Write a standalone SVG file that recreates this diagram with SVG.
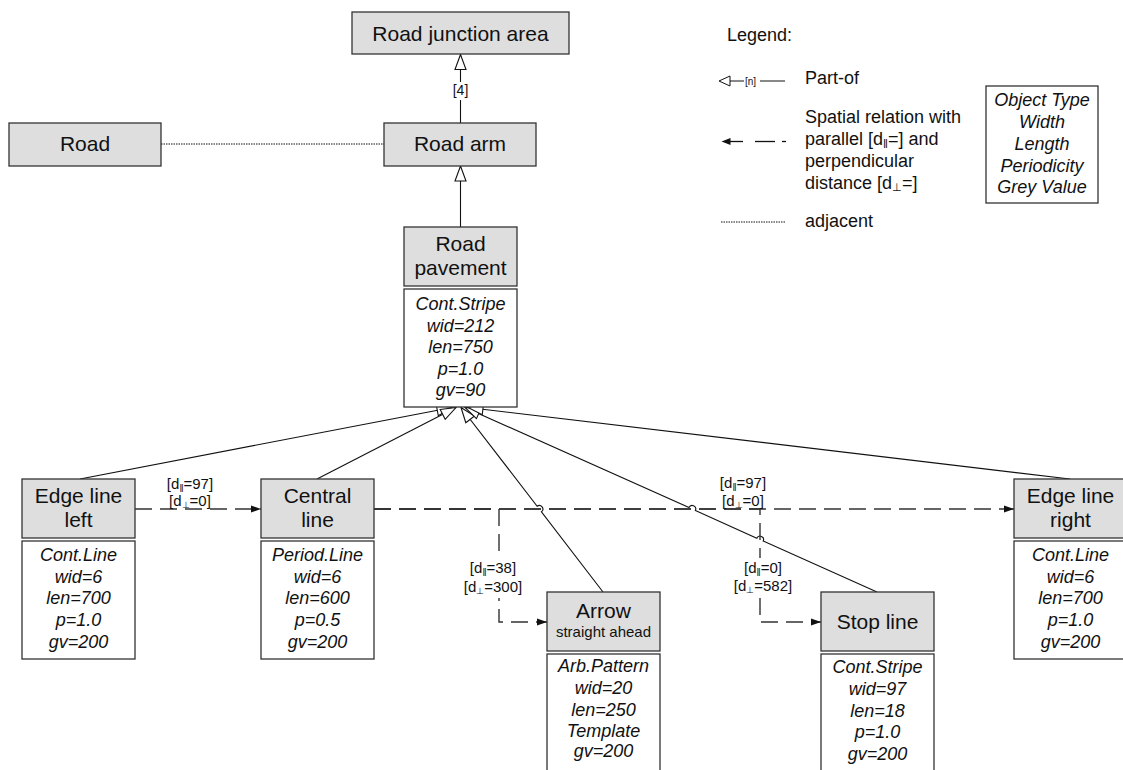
<svg xmlns="http://www.w3.org/2000/svg" width="1123" height="770" viewBox="0 0 1123 770">
<style>
text{font-family:"Liberation Sans",Arial,sans-serif;fill:#111}
.nb{fill:#dedede;stroke:#333;stroke-width:1.3}
.ab{fill:#fff;stroke:#333;stroke-width:1.3}
.nt{font-size:21px;text-anchor:middle}
.at{font-size:18px;font-style:italic;text-anchor:middle}
.lg{font-size:18px}
.lb{font-size:15px;text-anchor:middle}
.po{fill:none;stroke:#111;stroke-width:1.1;marker-end:url(#tri)}
.sp{fill:none;stroke:#333;stroke-width:1.4;stroke-dasharray:17 8;marker-end:url(#arr)}
.adj{fill:none;stroke:#111;stroke-width:1;stroke-dasharray:1.5 1}
</style>
<defs>
<marker id="tri" markerUnits="userSpaceOnUse" viewBox="-1 -7 17 14" markerWidth="17" markerHeight="14" refX="15" refY="0" orient="auto">
<path d="M0,-5.5 L15,0 L0,5.5 Z" fill="#fff" stroke="#111" stroke-width="1.1"/>
</marker>
<marker id="arr" markerUnits="userSpaceOnUse" viewBox="0 -4 10 8" markerWidth="10" markerHeight="8" refX="10" refY="0" orient="auto">
<path d="M0,-3.5 L10,0 L0,3.5 Z" fill="#111"/>
</marker>
</defs>

<g id="connectors">
<line class="adj" x1="161" y1="144" x2="384" y2="144"/>
<path class="po" d="M460.5,123 V54.5"/>
<path class="po" d="M460.5,227 V166"/>
<path class="po" d="M80,479 L452,407.5"/>
<path class="po" d="M317,479 L456,407.5"/>
<path class="po" d="M603,592 L541.43,511.78 A3.5,3.5 0 0 0 537.17,506.22 L461,407.5"/>
<path class="po" d="M877,592 L763.19,541.04 A3.5,3.5 0 0 0 756.81,538.16 L695.39,510.44 A3.5,3.5 0 0 0 689.01,507.56 L465,407.5"/>
<path class="po" d="M1070,479 L468,407.5"/>
<path class="sp" d="M135,509 H261"/>
<path class="sp" d="M374,509 H1014"/>
<path class="sp" d="M374,509 H499 V622 H547"/>
<path class="sp" d="M374,509 H760 V622 H821"/>
<rect x="454" y="82" width="13" height="18" fill="#fff"/>
<text x="460.5" y="95" font-size="14" text-anchor="middle">[4]</text>
<text class="lb" x="190" y="489">[d<tspan font-size="10" dy="3">‖</tspan><tspan dy="-3">=97]</tspan></text>
<text class="lb" x="190" y="506">[d<tspan font-size="9" dy="2">⊥</tspan><tspan dy="-2">=0]</tspan></text>
<text class="lb" x="743" y="488">[d<tspan font-size="10" dy="3">‖</tspan><tspan dy="-3">=97]</tspan></text>
<text class="lb" x="743" y="506">[d<tspan font-size="9" dy="2">⊥</tspan><tspan dy="-2">=0]</tspan></text>
<rect x="467" y="558" width="52" height="40" fill="#fff"/>
<text class="lb" x="493" y="573">[d<tspan font-size="10" dy="3">‖</tspan><tspan dy="-3">=38]</tspan></text>
<text class="lb" x="493" y="592">[d<tspan font-size="9" dy="2">⊥</tspan><tspan dy="-2">=300]</tspan></text>
<rect x="733" y="558" width="60" height="40" fill="#fff"/>
<text class="lb" x="763" y="573">[d<tspan font-size="10" dy="3">‖</tspan><tspan dy="-3">=0]</tspan></text>
<text class="lb" x="763" y="591">[d<tspan font-size="9" dy="2">⊥</tspan><tspan dy="-2">=582]</tspan></text>
</g>

<g id="road-junction-area">
<rect class="nb" x="352" y="12" width="217" height="42"/>
<text class="nt" x="460.5" y="41">Road junction area</text>
</g>
<g id="road">
<rect class="nb" x="9" y="123" width="152" height="43"/>
<text class="nt" x="85" y="151">Road</text>
</g>
<g id="road-arm">
<rect class="nb" x="384" y="123" width="152" height="43"/>
<text class="nt" x="460" y="151">Road arm</text>
</g>
<g id="road-pavement">
<rect class="nb" x="404" y="227" width="113" height="59"/>
<text class="nt" x="460.5" y="251">Road</text>
<text class="nt" x="460.5" y="275">pavement</text>
<rect class="ab" x="404" y="289" width="113" height="118"/>
<text class="at" x="460.5" y="310">Cont.Stripe</text>
<text class="at" x="460.5" y="332">wid=212</text>
<text class="at" x="460.5" y="353">len=750</text>
<text class="at" x="460.5" y="375">p=1.0</text>
<text class="at" x="460.5" y="396">gv=90</text>
</g>
<g id="edge-line-left">
<rect class="nb" x="22" y="479" width="113" height="59"/>
<text class="nt" x="78.5" y="503">Edge line</text>
<text class="nt" x="78.5" y="527">left</text>
<rect class="ab" x="22" y="541" width="113" height="118"/>
<text class="at" x="78.5" y="561">Cont.Line</text>
<text class="at" x="78.5" y="583">wid=6</text>
<text class="at" x="78.5" y="604">len=700</text>
<text class="at" x="78.5" y="626">p=1.0</text>
<text class="at" x="78.5" y="648">gv=200</text>
</g>
<g id="central-line">
<rect class="nb" x="261" y="479" width="113" height="59"/>
<text class="nt" x="317.5" y="503">Central</text>
<text class="nt" x="317.5" y="527">line</text>
<rect class="ab" x="261" y="541" width="113" height="118"/>
<text class="at" x="317.5" y="561">Period.Line</text>
<text class="at" x="317.5" y="583">wid=6</text>
<text class="at" x="317.5" y="604">len=600</text>
<text class="at" x="317.5" y="626">p=0.5</text>
<text class="at" x="317.5" y="648">gv=200</text>
</g>
<g id="edge-line-right">
<rect class="nb" x="1014" y="479" width="113" height="59"/>
<text class="nt" x="1070.5" y="503">Edge line</text>
<text class="nt" x="1070.5" y="527">right</text>
<rect class="ab" x="1014" y="541" width="113" height="118"/>
<text class="at" x="1070.5" y="561">Cont.Line</text>
<text class="at" x="1070.5" y="583">wid=6</text>
<text class="at" x="1070.5" y="604">len=700</text>
<text class="at" x="1070.5" y="626">p=1.0</text>
<text class="at" x="1070.5" y="648">gv=200</text>
</g>
<g id="arrow">
<rect class="nb" x="547" y="592" width="113" height="59"/>
<text class="nt" x="603.5" y="618">Arrow</text>
<text x="603.5" y="637" font-size="15" text-anchor="middle">straight ahead</text>
<rect class="ab" x="547" y="654" width="113" height="125"/>
<text class="at" x="603.5" y="672">Arb.Pattern</text>
<text class="at" x="603.5" y="694">wid=20</text>
<text class="at" x="603.5" y="716">len=250</text>
<text class="at" x="603.5" y="737">Template</text>
<text class="at" x="603.5" y="757">gv=200</text>
</g>
<g id="stop-line">
<rect class="nb" x="821" y="592" width="113" height="59"/>
<text class="nt" x="877.5" y="629">Stop line</text>
<rect class="ab" x="821" y="654" width="113" height="125"/>
<text class="at" x="877.5" y="673">Cont.Stripe</text>
<text class="at" x="877.5" y="695">wid=97</text>
<text class="at" x="877.5" y="717">len=18</text>
<text class="at" x="877.5" y="738">p=1.0</text>
<text class="at" x="877.5" y="760">gv=200</text>
</g>

<g id="legend">
<text class="lg" x="727" y="41">Legend:</text>
<path d="M730,76 L719,81 L730,86 Z" fill="#fff" stroke="#111" stroke-width="1"/>
<line x1="730" y1="81" x2="744" y2="81" stroke="#111" stroke-width="1"/>
<text x="745" y="84.5" font-size="10">[n]</text>
<line x1="760" y1="81" x2="785" y2="81" stroke="#111" stroke-width="1"/>
<text class="lg" x="805" y="84">Part-of</text>
<path d="M721.5,141.5 L730.5,138 L730.5,145 Z" fill="#111"/>
<line x1="730" y1="141.5" x2="743" y2="141.5" stroke="#111" stroke-width="1.3"/>
<line x1="755" y1="141.5" x2="775" y2="141.5" stroke="#111" stroke-width="1.3"/>
<line x1="782" y1="141.5" x2="786" y2="141.5" stroke="#111" stroke-width="1.3"/>
<text class="lg" x="805" y="123">Spatial relation with</text>
<text class="lg" x="805" y="145">parallel [d<tspan font-size="12" dy="3">‖</tspan><tspan dy="-3">=] and</tspan></text>
<text class="lg" x="805" y="167">perpendicular</text>
<text class="lg" x="805" y="189">distance  [d<tspan font-size="11" dy="2">⊥</tspan><tspan dy="-2">=]</tspan></text>
<line class="adj" x1="721" y1="222" x2="785" y2="222"/>
<text class="lg" x="805" y="227">adjacent</text>
<rect class="ab" x="986" y="86" width="112" height="117"/>
<text class="at" x="1042" y="106">Object Type</text>
<text class="at" x="1042" y="128">Width</text>
<text class="at" x="1042" y="150">Length</text>
<text class="at" x="1042" y="172">Periodicity</text>
<text class="at" x="1042" y="193">Grey Value</text>
</g>
</svg>
